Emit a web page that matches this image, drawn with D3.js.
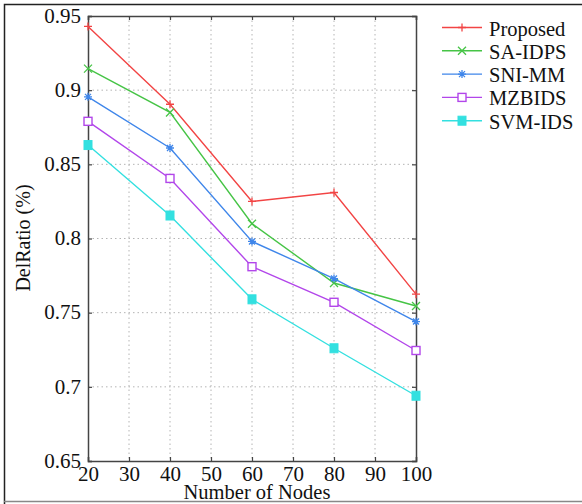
<!DOCTYPE html>
<html>
<head>
<meta charset="utf-8">
<script src="https://cdn.jsdelivr.net/npm/d3@7"></script>
<style>
  html, body { margin: 0; padding: 0; background: #fff; }
  svg { display: block; font-family: "Liberation Serif", "Times New Roman", serif; }
</style>
</head>
<body>
<svg id="chart" width="582" height="504"></svg>
<script>
// Number of nodes on the x axis
const nodes = [20, 40, 60, 80, 100];

// Delivery ratio for each scheme
const proposed = [0.943, 0.8905, 0.825, 0.831, 0.7625];
const saIdps   = [0.9145, 0.885, 0.810, 0.770, 0.7545];
const sniMm    = [0.8955, 0.861, 0.798, 0.773, 0.744];
const mzbids   = [0.879, 0.8405, 0.781, 0.757, 0.7245];
const svmIds   = [0.863, 0.8155, 0.759, 0.726, 0.694];

const seriesNames = ["Proposed", "SA-IDPS", "SNI-MM", "MZBIDS", "SVM-IDS"];
const seriesColors = ["#f24444", "#46c446", "#3f86ea", "#b246ea", "#33e0e0"];
const seriesMarkers = ["plus", "cross", "star", "square", "filledSquare"];

const xTicks = [20, 30, 40, 50, 60, 70, 80, 90, 100];
const yTicks = [0.65, 0.7, 0.75, 0.8, 0.85, 0.9, 0.95];
const yTickLabels = ["0.65", "0.7", "0.75", "0.8", "0.85", "0.9", "0.95"];

const series = [proposed, saIdps, sniMm, mzbids, svmIds].map((vals, i) => ({
  name: seriesNames[i], color: seriesColors[i], marker: seriesMarkers[i],
  points: vals.map((v, j) => ({ x: nodes[j], y: v }))
}));

const svg = d3.select("#chart");
const plotL = 88, plotR = 416, plotT = 16, plotB = 461;

// Outer frame
svg.append("path")
  .attr("d", "M4.5,504 L4.5,4.5 L582,4.5")
  .attr("fill", "none").attr("stroke", "#222").attr("stroke-width", 1.5);
svg.append("line").attr("x1", 4).attr("x2", 582).attr("y1", 501.5).attr("y2", 501.5)
  .attr("stroke", "#888").attr("stroke-width", 1.5);

const x = d3.scaleLinear().domain([20, 100]).range([plotL, plotR]);
const y = d3.scaleLinear().domain([0.65, 0.95]).range([plotB, plotT]);

// Dotted grid
const grid = svg.append("g").attr("stroke", "#b4b4b4").attr("stroke-width", 1)
  .attr("stroke-dasharray", "1.5,3");
grid.selectAll(".gx").data(xTicks.slice(1, -1)).join("line")
  .attr("x1", d => x(d)).attr("x2", d => x(d)).attr("y1", plotT).attr("y2", plotB);
grid.selectAll(".gy").data(yTicks.slice(1, -1)).join("line")
  .attr("x1", plotL).attr("x2", plotR).attr("y1", d => y(d)).attr("y2", d => y(d));

// Axes with inward ticks on all four sides
const axisColor = "#444";
const fmtY = d => yTickLabels[yTicks.indexOf(d)] ?? d;
const gx = svg.append("g").attr("transform", `translate(0,${plotB})`)
  .call(d3.axisBottom(x).tickValues(xTicks).tickSize(-4).tickPadding(6).tickFormat(d3.format("d")));
const gy = svg.append("g").attr("transform", `translate(${plotL},0)`)
  .call(d3.axisLeft(y).tickValues(yTicks).tickSize(-4).tickPadding(7).tickFormat(fmtY));
const gxt = svg.append("g").attr("transform", `translate(0,${plotT})`)
  .call(d3.axisTop(x).tickValues(xTicks).tickSize(-4).tickFormat(""));
const gyr = svg.append("g").attr("transform", `translate(${plotR},0)`)
  .call(d3.axisRight(y).tickValues(yTicks).tickSize(-4).tickFormat(""));
[gx, gy, gxt, gyr].forEach(g => {
  g.select(".domain").attr("stroke", axisColor).attr("stroke-width", 1.5);
  g.selectAll(".tick line").attr("stroke", axisColor).attr("stroke-width", 1.2);
  g.selectAll(".tick text").attr("fill", "#111").attr("font-size", 21)
    .attr("font-family", "Liberation Serif, Times New Roman, serif");
});
gx.selectAll(".tick text").attr("dy", "0.66em");
gy.selectAll(".tick text").attr("dy", "0.3em");

// Axis titles
svg.append("text").attr("x", 257).attr("y", 499).attr("text-anchor", "middle")
  .attr("font-size", 20.5).attr("fill", "#111").text("Number of Nodes");
svg.append("text").attr("transform", "translate(30,238) rotate(-90)")
  .attr("text-anchor", "middle").attr("font-size", 20).attr("fill", "#111").text("DelRatio (%)");

// Marker drawing
function drawMarker(g, type, color, cx, cy) {
  const s = 4;
  if (type === "plus") {
    g.append("path").attr("d", `M${cx - s},${cy}H${cx + s}M${cx},${cy - s}V${cy + s}`)
      .attr("stroke", color).attr("stroke-width", 1.3).attr("fill", "none");
  } else if (type === "cross") {
    g.append("path").attr("d", `M${cx - s},${cy - s}L${cx + s},${cy + s}M${cx - s},${cy + s}L${cx + s},${cy - s}`)
      .attr("stroke", color).attr("stroke-width", 1.3).attr("fill", "none");
  } else if (type === "star") {
    g.append("path").attr("d", `M${cx - s},${cy}H${cx + s}M${cx},${cy - s}V${cy + s}M${cx - s * 0.75},${cy - s * 0.75}L${cx + s * 0.75},${cy + s * 0.75}M${cx - s * 0.75},${cy + s * 0.75}L${cx + s * 0.75},${cy - s * 0.75}`)
      .attr("stroke", color).attr("stroke-width", 1.3).attr("fill", "none");
  } else if (type === "square") {
    g.append("rect").attr("x", cx - 4).attr("y", cy - 4).attr("width", 8).attr("height", 8)
      .attr("stroke", color).attr("stroke-width", 1.4).attr("fill", "#fff");
  } else {
    g.append("rect").attr("x", cx - 4).attr("y", cy - 4.5).attr("width", 8).attr("height", 9)
      .attr("stroke", color).attr("stroke-width", 1).attr("fill", color);
  }
}

// Series lines and markers
const line = d3.line().x(d => x(d.x)).y(d => y(d.y));
series.forEach(s => {
  const g = svg.append("g");
  g.append("path").datum(s.points).attr("d", line)
    .attr("fill", "none").attr("stroke", s.color).attr("stroke-width", 1.4);
  s.points.forEach(p => drawMarker(g, s.marker, s.color, x(p.x), y(p.y)));
});

// Legend
const legend = svg.append("g");
series.forEach((s, i) => {
  const ly = 27.5 + i * 23.3;
  const g = legend.append("g");
  g.append("line").attr("x1", 442).attr("x2", 482).attr("y1", ly).attr("y2", ly)
    .attr("stroke", s.color).attr("stroke-width", 1.4);
  drawMarker(g, s.marker, s.color, 462, ly);
  g.append("text").attr("x", 489).attr("y", ly + 8).attr("font-size", 20.5)
    .attr("fill", "#111").text(s.name);
});
</script>
</body>
</html>
